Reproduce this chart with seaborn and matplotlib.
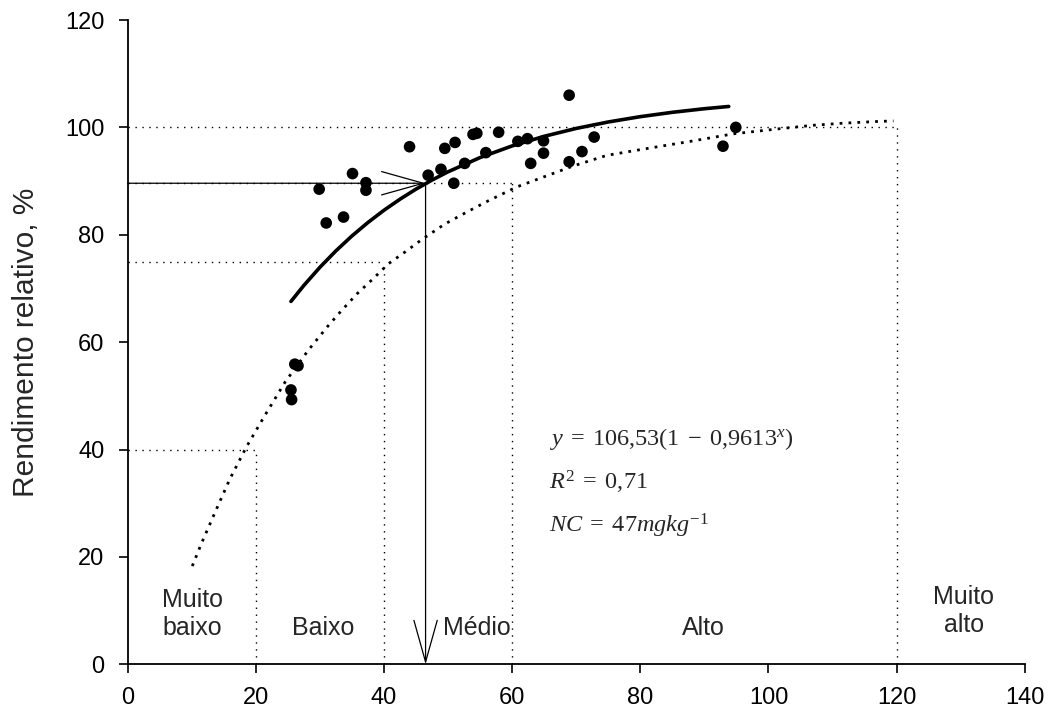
import numpy as np
import pandas as pd
import matplotlib
matplotlib.use("Agg")
import matplotlib.pyplot as plt
import seaborn as sns

# ---------------- data ----------------
obs_x = [68.9, 44.0, 49.5, 51.1, 53.9, 54.5, 57.9, 60.9, 62.4, 64.9, 55.9, 52.6,
         64.9, 62.9, 68.9, 70.9, 72.8, 46.9, 48.9, 50.9, 35.1, 37.2, 37.2, 29.9,
         31.0, 33.7, 26.1, 26.6, 25.5, 25.6, 94.9, 92.9]
obs_y = [106.0, 96.4, 96.1, 97.2, 98.7, 98.9, 99.1, 97.4, 97.9, 97.5, 95.3, 93.3,
         95.2, 93.3, 93.6, 95.5, 98.2, 91.1, 92.2, 89.6, 91.4, 89.7, 88.3, 88.5,
         82.2, 83.3, 55.9, 55.6, 51.1, 49.3, 100.0, 96.5]

# fitted curve (solid)
fit_x = [25.5, 27.5, 30, 32.5, 35, 37.5, 40, 42.5, 45, 47.5, 50, 55, 60, 65,
         70, 75, 80, 85, 90, 93.8]
fit_y = [67.59, 70.55, 73.93, 76.99, 79.77, 82.28, 84.56, 86.62, 88.50, 90.19,
         91.73, 94.38, 96.55, 98.34, 99.81, 101.01, 102.00, 102.81, 103.48, 103.90]

# reference curve (dotted)
ref_x = [10.1, 11.6, 13.8, 16.0, 18.6, 21.5, 24.6, 28.2, 31.2, 33.4, 35.8, 38.3,
         40.7, 43.3, 45.9, 49.5, 52.1, 55.9, 60.7, 69.5, 74.8, 80.7, 88.3, 94.5,
         102.1, 107.0, 111.9, 116.9, 119.5]
ref_y = [18.3, 22.7, 28.7, 34.6, 40.6, 46.5, 52.6, 58.5, 62.9, 65.9, 69.0, 71.8,
         74.6, 76.8, 79.1, 82.0, 83.7, 86.1, 88.9, 92.8, 94.8, 96.0, 97.5, 98.8,
         99.8, 100.4, 100.8, 101.1, 101.2]

# class limits: (x limit, relative yield)
class_x = [20, 40, 60, 120]
class_y = [40, 75, 89.6, 100]
nc_x, nc_y = 46.5, 89.6

class_labels = ["Muito\nbaixo", "Baixo", "Médio", "Alto", "Muito\nalto"]
class_label_x = [10.1, 30.6, 54.5, 89.8, 130.5]
class_label_y = [5.5, 5.5, 5.5, 5.5, 6.1]   # baseline of last line

eq_lines = [r"$y\;=\;106{,}53(1\;-\;0{,}9613^{x})$",
            r"$R^{2}\;=\;0{,}71$",
            r"$NC\;=\;47mgkg^{-1}$"]
eq_y = [40.8, 32.6, 24.5]

x_ticks = [0, 20, 40, 60, 80, 100, 120, 140]
y_ticks = [0, 20, 40, 60, 80, 100, 120]

# ---------------- style ----------------
sns.set_theme(style="ticks")
plt.rcParams["font.family"] = ["Liberation Sans", "DejaVu Sans"]
plt.rcParams["mathtext.fontset"] = "custom"
plt.rcParams["mathtext.rm"] = "Liberation Serif"
plt.rcParams["mathtext.it"] = "Liberation Serif:italic"

fig = plt.figure(figsize=(10.53, 7.15), dpi=100)
ax = fig.add_axes([0.1211, 0.0709, 0.9733 - 0.1211, 0.972 - 0.0709])

# reference dotted lines for classes
for cx, cy in zip(class_x, class_y):
    ax.plot([0, cx], [cy, cy], color="black", lw=1.0, ls=(0, (1, 4)), zorder=1)
    ax.plot([cx, cx], [0, cy], color="black", lw=1.0, ls=(0, (1, 4)), zorder=1)

# dotted curve
sns.lineplot(x=ref_x, y=ref_y, ax=ax, color="black", lw=2.0,
             linestyle=(0, (1, 2.2)), sort=False, zorder=2)

# fitted solid curve
sns.lineplot(x=fit_x, y=fit_y, ax=ax, color="black", lw=2.6, sort=False, zorder=3)

# observations
df = pd.DataFrame({"x": obs_x, "y": obs_y})
sns.scatterplot(data=df, x="x", y="y", ax=ax, color="black", s=70,
                edgecolor="none", zorder=4)

# arrows to critical level
aprops = dict(arrowstyle="->,head_length=3.0,head_width=0.84", lw=0.9,
              color="black", shrinkA=0, shrinkB=0, mutation_scale=10)
ax.annotate("", xy=(nc_x, nc_y), xytext=(0, nc_y), arrowprops=aprops, zorder=5)
ax.annotate("", xy=(nc_x, 0), xytext=(nc_x, nc_y), arrowprops=aprops, zorder=5)

# class labels
for lab, lx, ly in zip(class_labels, class_label_x, class_label_y):
    ax.text(lx, ly, lab, ha="center", va="baseline", fontsize=18,
            linespacing=1.2)

# equation
for line, ey in zip(eq_lines, eq_y):
    ax.text(65.8, ey, line, ha="left", va="baseline", fontsize=17.5)

ax.set_xlim(0, 140)
ax.set_ylim(0, 120)
ax.set_xticks(x_ticks)
ax.set_yticks(y_ticks)
ax.set_xlabel("")
ax.set_ylabel("Rendimento relativo, %", fontsize=21.5, labelpad=18)
ax.tick_params(axis="both", direction="out", length=6.5, width=1.2,
               labelsize=17, color="black", labelcolor="black", pad=10)
sns.despine(ax=ax)
for side in ["left", "bottom"]:
    ax.spines[side].set_linewidth(1.3)
    ax.spines[side].set_color("black")

fig.savefig("out.png", dpi=100)
